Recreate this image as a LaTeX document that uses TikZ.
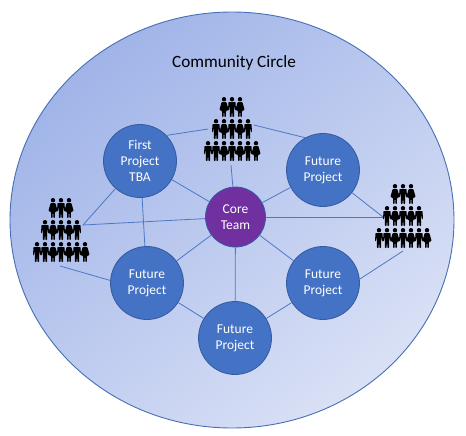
\documentclass[tikz,border=0pt]{standalone}
\usepackage{fontspec}
\setmainfont{Carlito}
\definecolor{ringblue}{RGB}{72, 110, 180}
\definecolor{skyleft}{RGB}{160, 180, 232}
\definecolor{skyright}{RGB}{218, 225, 246}
\definecolor{projblue}{RGB}{68, 114, 196}
\definecolor{projedge}{RGB}{52, 90, 160}
\definecolor{corepurple}{RGB}{112, 48, 160}
\definecolor{linkblue}{RGB}{78, 120, 198}
\tikzset{
  project/.style={circle, draw=projedge, fill=projblue, text=white, thick, minimum size=73, inner sep=0pt, align=center, font=\fontsize{13.5}{16}\selectfont},
  coreteam/.style={project, fill=corepurple, minimum size=60},
  linkline/.style={draw=linkblue, line width=0.8pt},
  manfig/.pic={
    \fill (0,2.2) circle (2.2);
    \fill[rounded corners=0.8pt] (-3.6,5) -- (3.6,5) -- (3.9,13) -- (3,13) -- (2.2,8) -- (2.2,20) -- (0.4,20) -- (0.1,13) -- (-0.1,13) -- (-0.4,20) -- (-2.2,20) -- (-2.2,8) -- (-3,13) -- (-3.9,13) -- cycle;
  },
  womanfig/.pic={
    \fill (0,2.2) circle (2.2);
    \fill[rounded corners=0.8pt] (-2.4,5) -- (2.4,5) -- (4.6,13) -- (1.9,14) -- (1.9,20) -- (0.4,20) -- (0.2,14.5) -- (-0.2,14.5) -- (-0.4,20) -- (-1.9,20) -- (-1.9,14) -- (-4.6,13) -- cycle;
  },
  crowd/.pic={
    \foreach \dx/\kind in {-8/womanfig, 0/manfig, 8/womanfig}
      \pic at (\dx,0) {\kind};
    \foreach \dx/\kind in {-16/manfig, -8/womanfig, 0/manfig, 8/womanfig, 16/manfig}
      \pic at (\dx,22) {\kind};
    \foreach \dx/\kind in {-24/manfig, -16/manfig, -8/womanfig, 0/manfig, 8/womanfig, 16/manfig, 24/womanfig}
      \pic at (\dx,44) {\kind};
  },
}
\begin{document}
\begin{tikzpicture}[x=1pt, y=-1pt]
  \useasboundingbox (0,0) rectangle (466,436);

  % community ring
  \shade[left color=skyleft, right color=skyright, shading angle=40] (232,220) ellipse (222 and 208);
  \draw[ringblue, line width=0.9pt] (232,220) ellipse (222 and 208);
  \node[font=\fontsize{17.2}{20}\selectfont] (title) at (234,63) {Community Circle};

  % project circles
  \node[project] (first) at (140,161) {First\\Project\\TBA};
  \node[project] (upright) at (323,170) {Future\\Project};
  \node[project] (lowleft) at (147,283) {Future\\Project};
  \node[project] (lowright) at (323,283) {Future\\Project};
  \node[project] (bottom) at (235,338) {Future\\Project};
  \node[coreteam] (core) at (235.5,217) {Core\\Team};

  % crowds
  \pic at (232,97) {crowd};
  \pic at (61,198) {crowd};
  \pic at (403,184) {crowd};

  % free ends at the crowds
  \coordinate (topL) at (208,129);
  \coordinate (topR) at (254,125);
  \coordinate (topB) at (231,165);
  \coordinate (leftT) at (83,225);
  \coordinate (leftB) at (60,266);
  \coordinate (rightT) at (383,217);
  \coordinate (rightB) at (403,251);

  % links
  \draw[linkline] (first.44) -- (topL);
  \draw[linkline] (upright.119) -- (topR);
  \draw[linkline] (core) -- (topB);
  \draw[linkline] (first) -- (core);
  \draw[linkline] (first) -- (leftT);
  \draw[linkline] (core) -- (leftT);
  \draw[linkline] (first) -- (lowleft);
  \draw[linkline] (lowleft.176) -- (leftB);
  \draw[linkline] (core) -- (upright);
  \draw[linkline] (core) -- (rightT);
  \draw[linkline] (upright) -- (rightT);
  \draw[linkline] (lowright.6) -- (rightB);
  \draw[linkline] (core) -- (lowleft);
  \draw[linkline] (core) -- (lowright);
  \draw[linkline] (core) -- (bottom);
  \draw[linkline] (lowleft) -- (bottom);
  \draw[linkline] (lowright) -- (bottom);
\end{tikzpicture}
\end{document}
